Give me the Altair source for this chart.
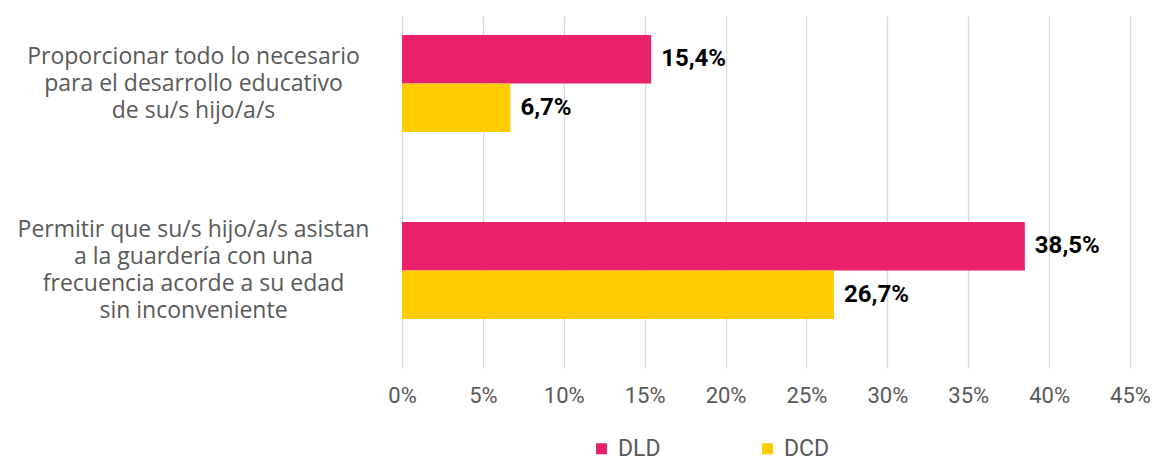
import altair as alt
import pandas as pd

categories = [
    "Proporcionar todo lo necesario|para el desarrollo educativo|de su/s hijo/a/s",
    "Permitir que su/s hijo/a/s asistan|a la guardería con una|frecuencia  acorde a su edad|sin inconveniente",
]
series = ["DLD", "DCD"]
dld_values = [15.4, 38.5]
dcd_values = [6.7, 26.7]
tick_values = [0, 5, 10, 15, 20, 25, 30, 35, 40, 45]
colors = ["#E8216A", "#FFCC00"]

rows = []
for i, c in enumerate(categories):
    rows.append({"cat": c, "serie": "DLD", "value": dld_values[i]})
    rows.append({"cat": c, "serie": "DCD", "value": dcd_values[i]})
df = pd.DataFrame(rows)

FONT = "Roboto"
CAT_FONT = "Open Sans"

base = alt.Chart(df).transform_calculate(
    label="replace(format(datum.value, '.1f'), '.', ',') + '%'"
)

y_enc = alt.Y(
    "cat:N",
    sort=categories,
    title=None,
    scale=alt.Scale(paddingInner=0.481, paddingOuter=0.1816, align=0.28),
    axis=alt.Axis(
        labelExpr="split(datum.label, '|')",
        labelAlign="center",
        labelBaseline="middle",
        labelPadding=209,
        labelOffset={
            "condition": {"test": "indexof(datum.value, 'Permitir') >= 0", "value": -40.5},
            "value": -27,
        },
        ticks=False,
        domain=False,
        grid=False,
        labelFontSize=23,
        labelColor="#595959",
        labelFont=CAT_FONT,
        labelLineHeight=27,
        labelLimit=500,
    ),
)
x_enc = alt.X(
    "value:Q",
    title=None,
    scale=alt.Scale(domain=[0, 45], nice=False),
    axis=alt.Axis(
        values=tick_values,
        labelExpr="datum.value + '%'",
        grid=True,
        gridColor="#D9D9D9",
        gridWidth=1.3,
        domain=False,
        ticks=False,
        labelFlush=False,
        labelFontSize=22,
        labelColor="#595959",
        labelFont=FONT,
        labelPadding=17,
    ),
)
yoff = alt.YOffset("serie:N", sort=series, scale=alt.Scale(paddingInner=0, paddingOuter=0))

bars = base.mark_bar().encode(
    x=x_enc,
    y=y_enc,
    yOffset=yoff,
    color=alt.Color(
        "serie:N",
        sort=series,
        scale=alt.Scale(domain=series, range=colors),
        legend=alt.Legend(
            title=None,
            orient="none",
            legendX=188,
            legendY=421,
            direction="horizontal",
            symbolType="square",
            symbolSize=121,
            symbolStrokeWidth=0,
            labelFontSize=23,
            labelColor="#595959",
            labelFont=FONT,
            labelOffset=5,
            columnPadding=95,
            padding=0,
        ),
    ),
)

texts = base.mark_text(
    align="left", baseline="middle", dx=10, fontWeight="bold", fontSize=24, font=FONT, color="#000000"
).encode(
    x="value:Q",
    y=alt.Y("cat:N", sort=categories),
    yOffset=alt.YOffset("serie:N", sort=series),
    text="label:N",
)

chart = (
    alt.layer(bars, texts)
    .properties(
        width=728,
        height=352,
        autosize=alt.AutoSizeParams(type="none"),
        padding={"left": 394, "top": 8, "right": 20, "bottom": 90},
    )
    .configure_view(stroke=None)
)

chart.save("out.html", embed_options={"renderer": "svg", "actions": False})
